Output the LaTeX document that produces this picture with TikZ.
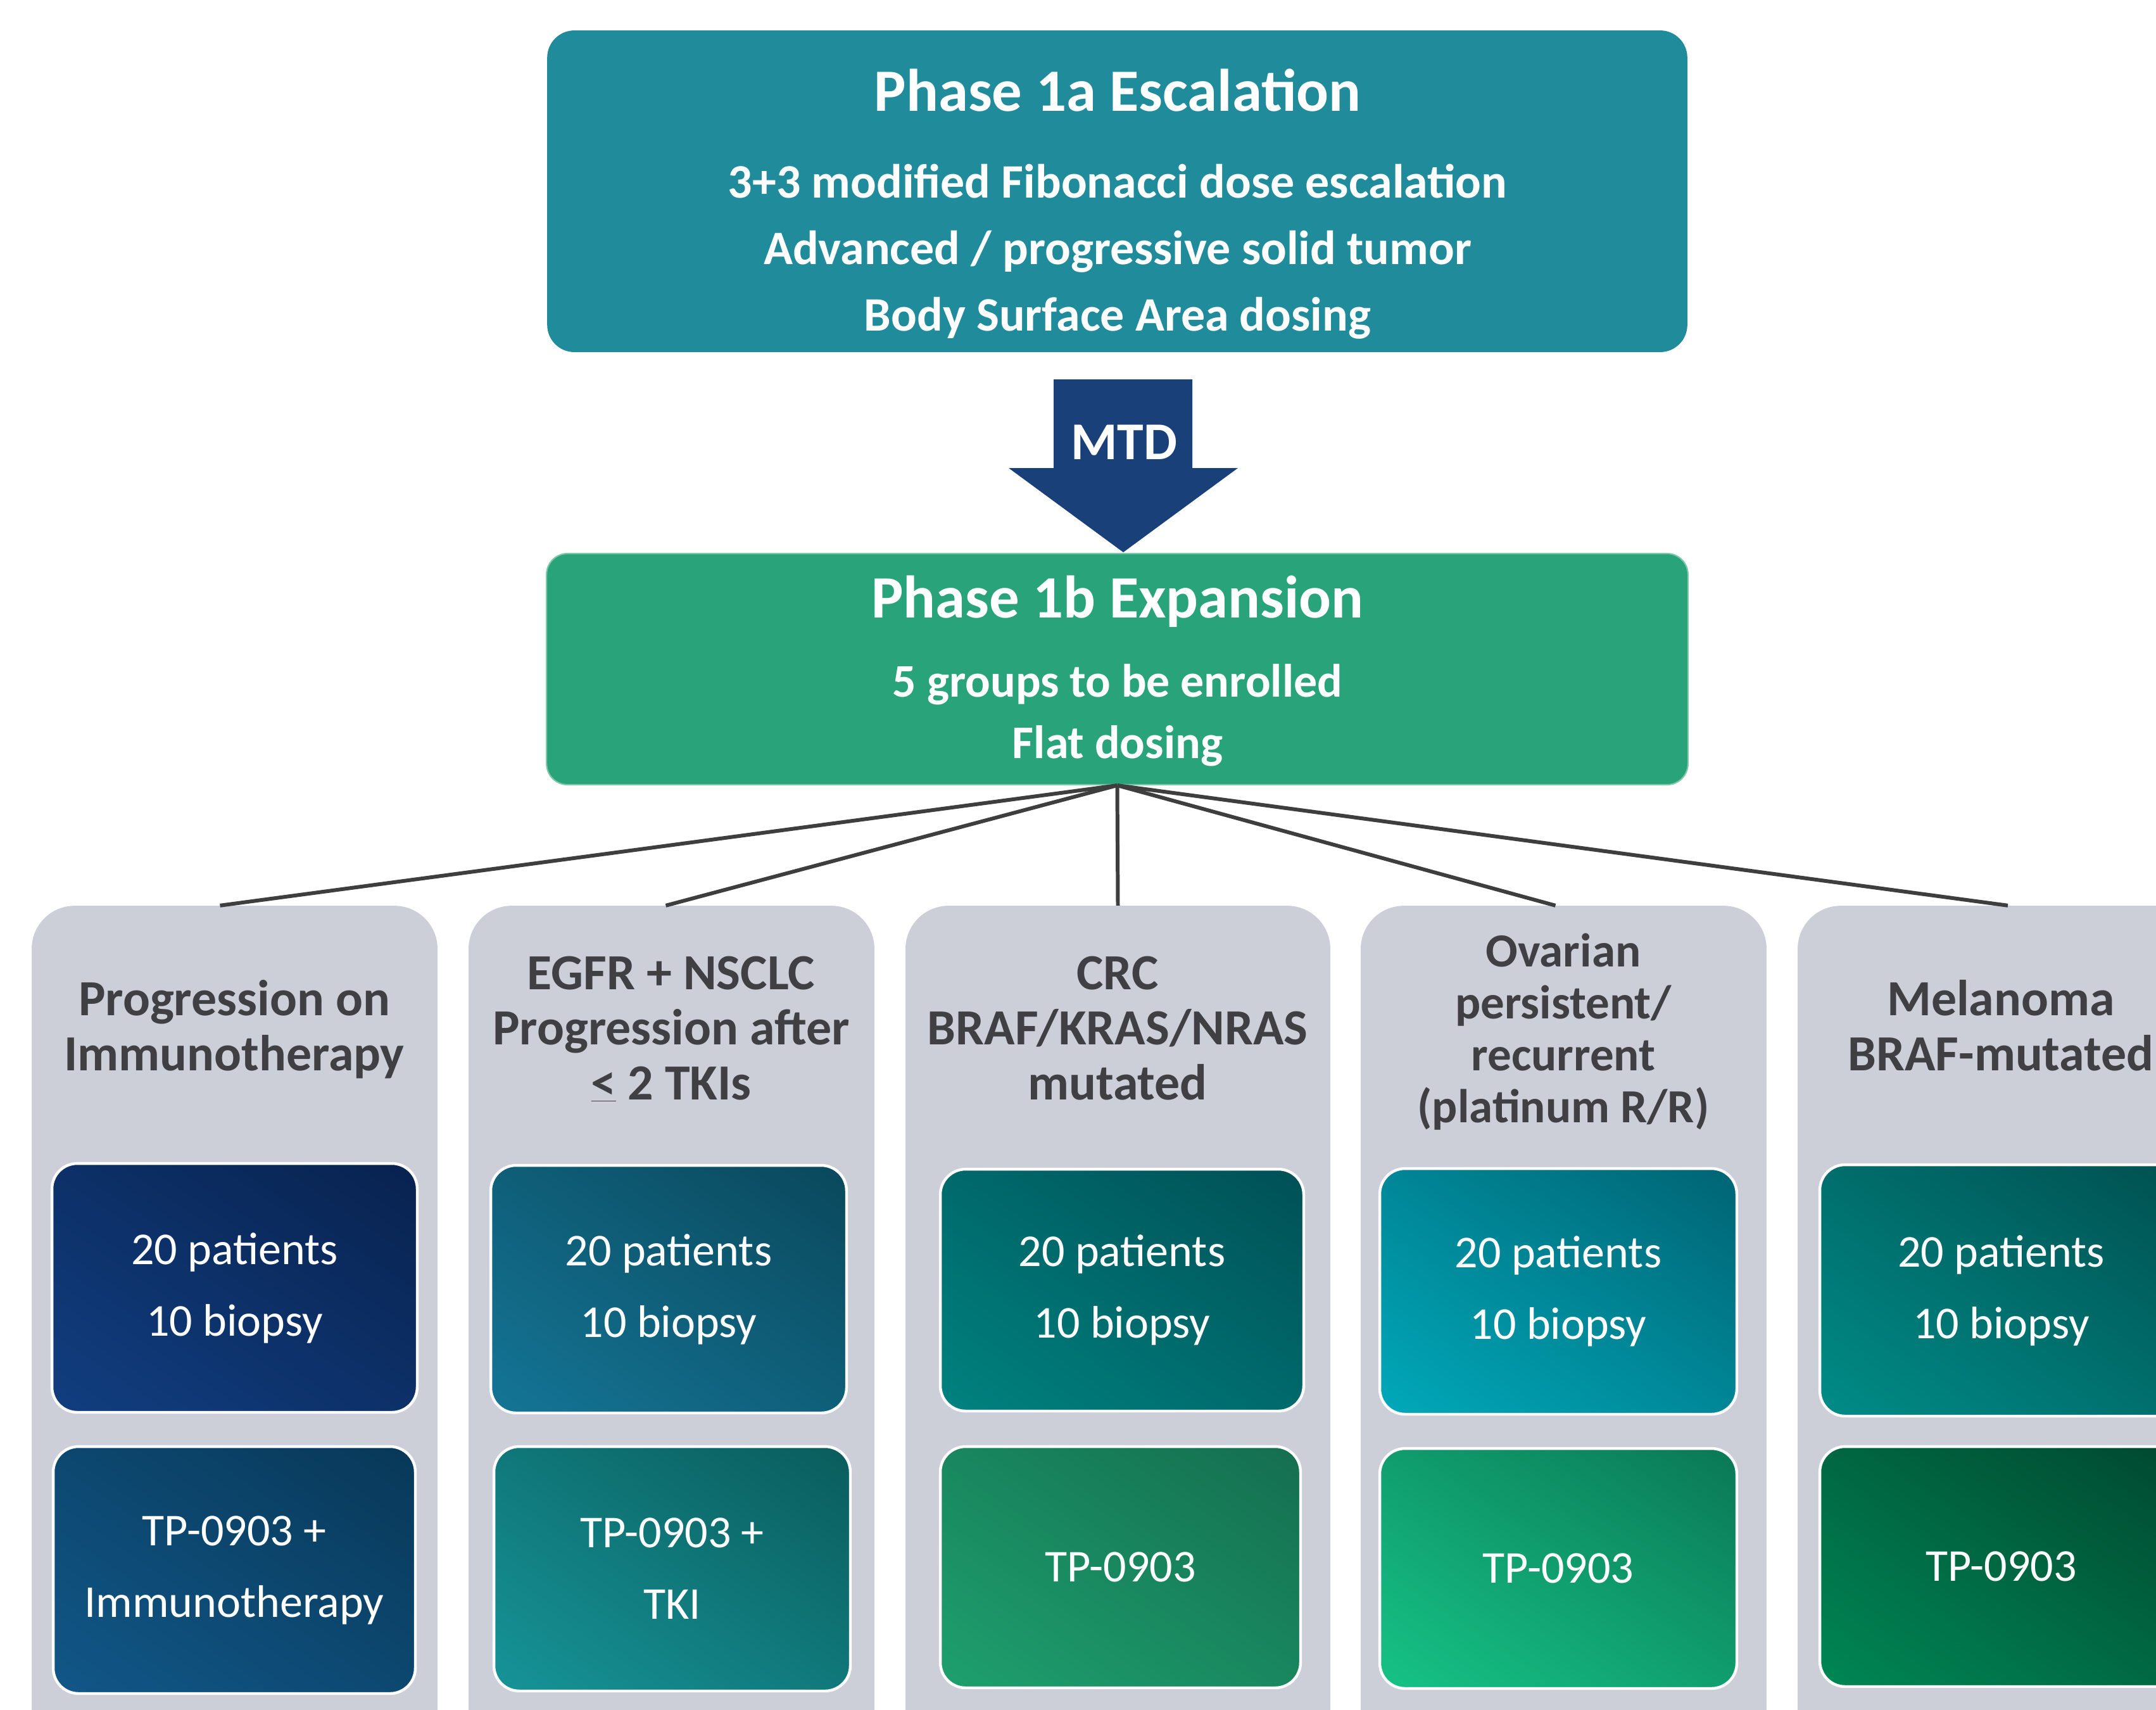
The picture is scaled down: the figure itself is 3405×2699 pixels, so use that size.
\documentclass[tikz,border=0pt]{standalone}
\usepackage{fontspec}
\setmainfont{Carlito}
\usetikzlibrary{calc,shadings}
\definecolor{escC}{RGB}{32,140,155}
\definecolor{expC}{RGB}{41,163,122}
\definecolor{expE}{RGB}{125,200,170}
\definecolor{mtdC}{RGB}{26,64,122}
\definecolor{colC}{RGB}{204,207,216}
\definecolor{hdrC}{RGB}{64,64,68}
\definecolor{lineC}{RGB}{62,62,62}
\definecolor{aA}{RGB}{17,62,128}\definecolor{aB}{RGB}{8,34,79}
\definecolor{bA}{RGB}{17,87,136}\definecolor{bB}{RGB}{8,56,88}
\definecolor{cA}{RGB}{20,117,150}\definecolor{cB}{RGB}{10,72,92}
\definecolor{dA}{RGB}{22,148,152}\definecolor{dB}{RGB}{10,92,92}
\definecolor{eA}{RGB}{0,130,128}\definecolor{eB}{RGB}{0,80,86}
\definecolor{fA}{RGB}{30,160,110}\definecolor{fB}{RGB}{20,110,80}
\definecolor{gA}{RGB}{0,169,186}\definecolor{gB}{RGB}{0,100,116}
\definecolor{hA}{RGB}{22,195,135}\definecolor{hB}{RGB}{10,120,85}
\definecolor{iA}{RGB}{0,140,136}\definecolor{iB}{RGB}{0,80,80}
\definecolor{jA}{RGB}{0,135,85}\definecolor{jB}{RGB}{0,72,48}
\newcommand\mystrut{\rule{0pt}{1em}}
\begin{document}
\begin{tikzpicture}[x=0.02cm,y=-0.02cm,
  colbox/.style={fill=colC, rounded corners=1.36cm, inner sep=0pt, minimum height=27.2cm},
  inbox/.style 2 args={draw=white, line width=2.5pt, rounded corners=0.8cm, inner sep=0pt,
    lower left=#1, upper right=#2, upper left=#1!50!#2, lower right=#1!50!#2,
    text=white, align=center, font=\fontsize{41}{64.3}\selectfont},
  hdr/.style={anchor=north, align=center, text=hdrC, inner sep=0pt,
    font=\bfseries\fontsize{45.5}{49.5}\selectfont},
  conn/.style={draw=lineC, line width=3.4pt},
  wtext/.style={text=white, inner sep=0pt, align=center}
]
\useasboundingbox (0,0) rectangle (3405,2699);
\fill[white] (0,0) rectangle (3405,2699);
\clip (0,0) rectangle (3405,2699);

% top box
\node[fill=escC, rounded corners=0.86cm, minimum width=36.02cm, minimum height=10.16cm, inner sep=0pt] (esc) at (1764.5,302) {};
\node[wtext, anchor=base, font=\bfseries\fontsize{54}{60}\selectfont] (escT) at (1765,175) {Phase 1a Escalation};
\node[wtext, anchor=north, font=\bfseries\fontsize{43.2}{59.75}\selectfont] (escD) at (1765,236)
  {\mystrut 3+3 modified Fibonacci dose escalation\\Advanced / progressive solid tumor\\Body Surface Area dosing};

% MTD arrow
\fill[mtdC] (1664,599) -- (1883,599) -- (1883,739) -- (1955,739) -- (1774,872) -- (1593,739) -- (1664,739) -- cycle;
\node[wtext, anchor=base, font=\bfseries\fontsize{47.8}{50}\selectfont] (mtd) at (1775,725) {MTD};

% expansion box
\node[fill=expC, draw=expE, line width=1.2pt, rounded corners=0.66cm, minimum width=36.06cm, minimum height=7.3cm, inner sep=0pt] (exp) at (1764.5,1056.5) {};
\node[wtext, anchor=base, font=\bfseries\fontsize{54}{60}\selectfont] (expT) at (1765,975) {Phase 1b Expansion};
\node[wtext, anchor=north, font=\bfseries\fontsize{42.1}{55.2}\selectfont] (expD) at (1765,1026)
  {\mystrut 5 groups to be enrolled\\Flat dosing};

% columns
\node[colbox, minimum width=12.82cm] (c1) at (370.5,2110) {};
\node[colbox, minimum width=12.82cm] (c2) at (1060.5,2110) {};
\node[colbox, minimum width=13.42cm] (c3) at (1765.5,2110) {};
\node[colbox, minimum width=12.82cm] (c4) at (2469.5,2110) {};
\node[colbox, minimum width=12.84cm] (c5) at (3160,2110) {};

% connectors
\draw[conn] (exp.south) -- ($(c1.north)+(-23,0)$);
\draw[conn] (exp.south) -- ($(c2.north)+(-9,0)$);
\draw[conn] (exp.south) -- (c3.north);
\draw[conn] (exp.south) -- ($(c4.north)+(-13,0)$);
\draw[conn] (exp.south) -- ($(c5.north)+(11,0)$);

% headers
\node[hdr] (h1) at (370,1523) {\mystrut Progression on\\Immunotherapy};
\node[hdr] (h2) at (1060,1482) {\mystrut EGFR + NSCLC\\Progression after\\\underline{<} 2 TKIs};
\node[hdr] (h3) at (1765,1482) {\mystrut CRC\\BRAF/KRAS/NRAS\\mutated};
\node[hdr, font=\bfseries\fontsize{42.7}{46.7}\selectfont] (h4) at (2469,1451) {\mystrut Ovarian\\persistent/\\recurrent\\(platinum R/R)};
\node[hdr] (h5) at (3160,1523) {\mystrut Melanoma\\BRAF-mutated};

% inner boxes
\node[inbox={aA}{aB}, minimum width=11.54cm, minimum height=7.86cm] (p1) at (370.5,2033.5) {20 patients\\10 biopsy};
\node[inbox={bA}{bB}, minimum width=11.44cm, minimum height=7.80cm] (d1) at (370,2479) {TP-0903 +\\Immunotherapy};
\node[inbox={cA}{cB}, minimum width=11.24cm, minimum height=7.82cm] (p2) at (1056,2035.5) {20 patients\\10 biopsy};
\node[inbox={dA}{dB}, minimum width=11.26cm, minimum height=7.72cm] (d2) at (1061.5,2477) {TP-0903 +\\TKI};
\node[inbox={eA}{eB}, minimum width=11.48cm, minimum height=7.64cm] (p3) at (1772,2037) {20 patients\\10 biopsy};
\node[inbox={fA}{fB}, minimum width=11.38cm, minimum height=7.62cm] (d3) at (1769.5,2474.5) {TP-0903};
\node[inbox={gA}{gB}, minimum width=11.28cm, minimum height=7.76cm] (p4) at (2461,2039) {20 patients\\10 biopsy};
\node[inbox={hA}{hB}, minimum width=11.28cm, minimum height=7.58cm] (d4) at (2461,2476.5) {TP-0903};
\node[inbox={iA}{iB}, minimum width=11.46cm, minimum height=7.94cm] (p5) at (3160.5,2037.5) {20 patients\\10 biopsy};
\node[inbox={jA}{jB}, minimum width=11.46cm, minimum height=7.58cm] (d5) at (3160.5,2473.5) {TP-0903};
\end{tikzpicture}
\end{document}
